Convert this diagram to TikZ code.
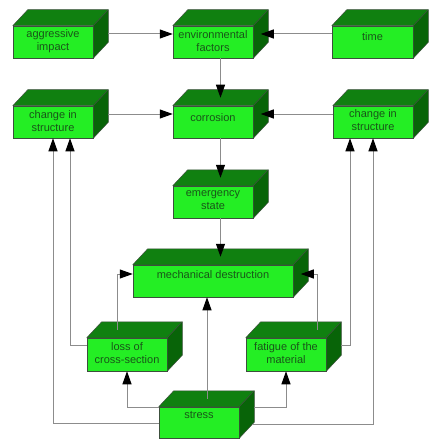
\documentclass[tikz,border=0pt]{standalone}
\usepackage{fontspec}
\setmainfont{Liberation Sans}
\usetikzlibrary{calc,arrows.meta}
\definecolor{frontc}{RGB}{36,238,36}
\definecolor{topc}{RGB}{16,128,16}
\definecolor{sidec}{RGB}{8,100,8}
\definecolor{edgec}{RGB}{60,80,60}
\definecolor{txtc}{RGB}{25,85,25}
\definecolor{linec}{RGB}{140,140,140}
\tikzset{
 frontbox/.style={draw=edgec, fill=frontc, line width=0.5pt, inner sep=0pt},
 topface/.style={draw=edgec, fill=topc, line width=0.5pt, line join=round},
 sideface/.style={draw=edgec, fill=sidec, line width=0.5pt, line join=round},
 lbl/.style={text=txtc, font=\fontsize{11}{13}\selectfont, align=center, inner sep=0pt},
 conn/.style={draw=linec, line width=1pt, -{Triangle[length=13pt,width=9pt,color=black]}},
}
\newcommand\cubebox[7]{%
 \node[frontbox, minimum width=#4pt, minimum height=#5pt] (#1) at (#2,#3) {};
 \path[topface] (#1.north west) -- ++(15,-16) -- ($(#1.north east)+(15,-16)$) -- (#1.north east) -- cycle;
 \path[sideface] (#1.north east) -- ++(15,-16) -- ($(#1.south east)+(15,-16)$) -- (#1.south east) -- cycle;
 \node[lbl] (#1-t) at ($(#1.center)+(0,#7)$) {#6};
}
\begin{document}
\begin{tikzpicture}[x=1pt,y=-1pt]
\useasboundingbox (0,0) rectangle (435,441);
\cubebox{agg}{53}{42}{80}{32}{aggressive\\impact}{-0.5}
\cubebox{env}{213}{42}{80}{32}{environmental\\factors}{-1}
\cubebox{time}{372.5}{42}{81}{32}{time}{-5.5}
\cubebox{chL}{53}{122}{80}{32}{change in\\structure}{-0.5}
\cubebox{cor}{213}{122}{80}{32}{corrosion}{-4}
\cubebox{chR}{373}{122}{80}{32}{change in\\structure}{-1.5}
\cubebox{emg}{213}{202}{80}{32}{emergency\\state}{-2}
\cubebox{mech}{213}{281}{160}{32}{mechanical destruction}{-6.5}
\cubebox{loss}{127}{354.5}{80}{33}{loss of\\cross-section}{-1.5}
\cubebox{fat}{286}{354.5}{80}{33}{fatigue of the\\material}{-1.5}
\cubebox{str}{199}{422.5}{80}{31}{stress}{-8}
% connectors
\draw[conn] ($(agg.east)+(15,-8)$) -- ($(env.west)+(0,-8)$);
\draw[conn] ($(time.west)+(0,-8)$) -- ($(env.east)+(7.5,-8)$);
\draw[conn] ($(env.south)+(7.5,0)$) -- ($(cor.north)+(7.5,-8)$);
\draw[conn] ($(chL.east)+(15,-8)$) -- ($(cor.west)+(0,-8)$);
\draw[conn] ($(chR.west)+(0,-8)$) -- ($(cor.east)+(7.5,-8)$);
\draw[conn] ($(cor.south)+(7.5,0)$) -- ($(emg.north)+(7.5,-8)$);
\draw[conn] ($(emg.south)+(7.5,0)$) -- ($(mech.north)+(7.5,-8)$);
\draw[conn] ($(loss.north)+(-10,-8)$) |- ($(mech.west)+(0,-7)$);
\draw[conn] ($(fat.north)+(31,-8)$) |- ($(mech.east)+(7.5,-7)$);
\draw[conn] ($(loss.west)+(0,-9.5)$) -| ($(chL.south)+(17,0)$);
\draw[conn] ($(str.west)+(0,0.5)$) -| (chL.south);
\draw[conn] ($(str.north west)+(0,1)$) -| (loss.south);
\draw[conn] ($(str.north)+(8,-8)$) coordinate (s1) -- (s1 |- mech.south);
\draw[conn] ($(str.north east)+(15,1)$) -| (fat.south);
\draw[conn] ($(str.east)+(13,1.5)$) -| (chR.south);
\draw[conn] ($(fat.east)+(15,-9.5)$) -| ($(chR.south)+(-23,0)$);
\end{tikzpicture}
\end{document}
